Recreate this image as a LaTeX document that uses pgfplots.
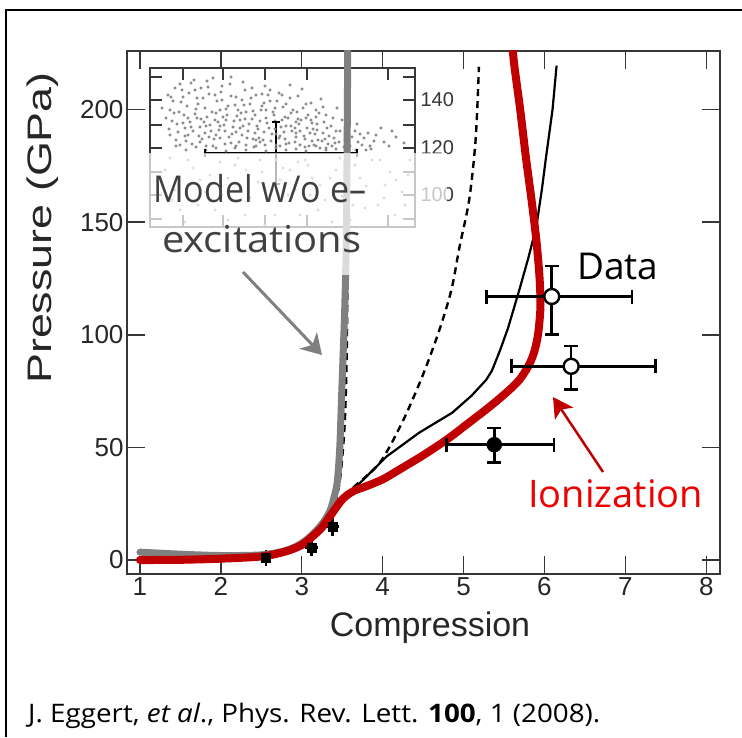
\documentclass[border=0pt]{standalone}
\usepackage{fontspec}
\setmainfont{Liberation Sans}
\newfontfamily\annot{Open Sans}
\usepackage{pgfplots}
\pgfplotsset{compat=1.18}
\usetikzlibrary{arrows.meta}

\definecolor{ionred}{RGB}{192,0,0}
\definecolor{labelred}{RGB}{236,0,0}
\definecolor{modelgray}{RGB}{128,128,128}
\definecolor{textgray}{RGB}{64,64,64}
\definecolor{framegray}{RGB}{55,55,55}
\definecolor{dotgray}{RGB}{135,135,135}

\pgfplotsset{
  ebar/.style={draw=black, line width=2.6pt, mark=none, forget plot},
  excap/.style={black, only marks, mark=|, mark size=7pt, mark options={line width=2.6pt}, forget plot},
  eycap/.style={black, only marks, mark=-, mark size=7pt, mark options={line width=2.6pt}, forget plot},
}

\begin{document}
\begin{tikzpicture}[x=1pt,y=1pt]
\path[use as bounding box] (0,0) rectangle (742,737);
% slide frame
\draw[line width=2.5pt] (6,0) -- (6,727) -- (742,727);

% inset: simulation snapshot with its own pressure scale
\begin{axis}[at={(150pt,510pt)}, anchor=south west, scale only axis,
  width=265pt, height=159pt,
  xmin=150, xmax=415, ymin=68, ymax=227, y dir=reverse,
  axis background/.style={fill=white},
  xtick={183,223,265,307,348,388}, xticklabels={},
  ytick={77,100,125,148,172,195,219}, yticklabels={,140,,120,,100,},
  xtick pos=both, ytick pos=both, yticklabel pos=right,
  tick align=inside, major tick length=12pt,
  axis line style={line width=1.6pt, framegray},
  tick style={line width=1.6pt, framegray},
  tick label style={font=\fontsize{20}{20}\selectfont, text=framegray},
  yticklabel style={xshift=2pt}]
\addplot[only marks, mark=*, mark size=1.35pt, color=dotgray] coordinates {
(162,108)(168,95)(172,121)(175,88)(178,132)(181,102)(184,115)(186,141)(189,93)(191,127)
(194,80)(196,109)(199,136)(201,119)(203,98)(206,146)(208,87)(210,125)(212,112)(214,139)
(217,101)(219,130)(221,92)(223,117)(225,144)(228,106)(230,84)(232,134)(234,121)(236,97)
(239,142)(241,113)(243,126)(245,90)(247,138)(250,104)(252,119)(254,147)(256,95)(258,129)
(261,110)(263,140)(265,86)(267,123)(270,101)(272,134)(274,115)(276,145)(279,93)(281,127)
(283,107)(285,139)(288,118)(290,98)(292,131)(295,142)(297,112)(299,124)(302,89)(304,136)
(306,104)(309,146)(311,120)(313,129)(316,110)(318,140)(321,99)(323,133)(326,115)(328,144)
(331,126)(334,138)(337,108)(340,131)(344,147)(352,137)(357,124)(362,145)(368,133)(374,141)
(381,128)(389,146)(396,137)(404,143)
(170,110)(177,124)(183,97)(188,118)(193,131)(198,104)(204,122)(209,137)(215,95)(220,126)
(226,109)(231,143)(237,116)(242,100)(248,131)(253,111)(259,138)(264,103)(269,128)(275,121)
(280,136)(286,126)(291,113)(296,133)(301,120)(307,128)(312,141)(317,124)(185,128)(195,90)
(205,133)(215,120)(225,131)(235,105)(245,119)(255,133)(265,145)(275,108)(285,117)(295,128)
(305,139)(315,134)(325,139)(335,143)(345,140)(360,134)(170,135)(180,145)(200,142)(220,110)
(240,128)(260,121)(280,146)(300,145)(320,148)(213,78)(243,82)(180,84)(270,90)(290,85)
(231,77)(333,118)(347,126)(371,149)(392,131)
(166,118)(169,129)(173,101)(176,140)(179,112)(182,90)(185,136)(187,106)(190,122)(192,144)
(195,114)(197,98)(200,127)(202,139)(205,108)(207,117)(209,94)(211,131)(213,146)(216,113)
(218,122)(220,138)(222,100)(224,125)(227,115)(229,137)(231,96)(233,127)(235,148)(238,110)
(240,120)(242,135)(244,105)(246,145)(249,124)(251,98)(253,139)(255,115)(257,126)(260,142)
(262,106)(264,132)(266,118)(268,95)(271,141)(273,112)(275,129)(277,101)(279,138)(282,120)
(284,132)(286,104)(289,143)(291,126)(293,110)(296,137)(298,119)(300,131)(303,108)(305,147)
(308,115)(310,133)(312,123)(314,145)(317,130)(319,113)(322,141)(324,122)(327,128)(329,136)
(332,146)(336,131)(339,142)(342,120)(346,134)(350,146)(355,131)(358,142)(364,138)(370,146)
(376,135)(384,142)(171,97)(174,113)(183,123)(188,135)(197,118)(206,126)(216,135)(226,120)
(236,132)(246,112)(256,140)(266,110)(276,134)(286,144)(296,122)(306,118)(316,117)(326,148)
(201,88)(222,86)(252,88)(262,94)(282,95)(298,96)(311,103)(323,107)(191,83)(207,81)
(186,150)(206,150)(226,151)(246,150)(266,151)(286,150)(306,151)(326,150)(346,151)(366,150)
(176,146)(196,147)(216,148)(236,146)(256,146)(276,148)(296,149)(316,146)(336,149)(356,150)
(165,170)(175,190)(188,160)(198,205)(210,175)(222,195)(235,165)(245,215)(258,182)(270,200)
(283,168)(295,190)(305,160)(318,210)(330,178)(342,196)(355,165)(366,186)(378,205)(390,172)
(402,192)(410,160)(380,160)(395,215)(350,220)(320,185)(300,215)(280,180)(260,160)(240,190)
(220,162)(200,180)(180,210)(170,158)(290,170)(310,195)(340,158)(365,208)(385,185)(405,205)
(160,180)(172,200)(185,222)(193,168)(205,192)(215,210)(228,178)(238,158)(250,198)(262,172)
(275,215)(288,195)(298,162)(312,178)(325,200)(336,170)(348,190)(360,178)(372,160)(384,198)
(396,180)(408,175)(353,205)(332,222)(265,225)(228,220)(190,185)(246,170)(308,165)(276,160)
};
% snapshot error cross
\addplot[ebar, line width=2.4pt] coordinates {(205,153)(357,153)};
\addplot[ebar, line width=2.4pt] coordinates {(276,122)(276,184)};
\addplot[excap, mark size=4pt] coordinates {(205,153)(357,153)};
\addplot[eycap, mark size=4pt] coordinates {(276,122)(276,184)};
\end{axis}

% main axes: pressure versus compression
\begin{axis}[at={(127pt,163pt)}, anchor=south west, scale only axis,
  width=593pt, height=523pt,
  xmin=0.84, xmax=8.17, ymin=-6.2, ymax=226,
  xtick={1,2,3,4,5,6,7,8}, ytick={0,50,100,150,200},
  xtick pos=both, ytick pos=both,
  tick align=inside, major tick length=18pt,
  axis line style={line width=1.5pt, framegray},
  tick style={line width=1.5pt, framegray},
  tick label style={font=\fontsize{26}{26}\selectfont, text=black!85},
  /pgf/number format/assume math mode=true]
% dashed model along the steep branch
\addplot[black, line width=2.4pt, dash pattern=on 7pt off 5pt, smooth] coordinates {
(3.38,20)(3.47,35)(3.53,60)(3.555,90)(3.565,120)(3.57,140)};
% dashed model
\addplot[black, line width=2.4pt, dash pattern=on 7pt off 5pt, smooth] coordinates {
(3.45,24)(3.6,31)(3.96,43)(4.24,61)(4.49,81.5)(4.7,102)(4.85,120)(4.95,139)(5.07,160)(5.15,187)(5.19,219)};
% solid model
\addplot[black, line width=2.2pt] coordinates {
(1,0.3)(2,0.8)(2.5,1.8)(3,6)(3.3,15)(3.45,24)(3.63,31)(4.05,46)(4.45,56.5)(4.86,65.4)(5.1,73)(5.28,80)
(5.35,84)(5.45,93)(5.55,103)(5.69,120)(5.8,134)(5.9,148)(5.97,165)(6.02,179)(6.1,200)(6.15,219.5)};
% low-pressure data
\addplot[ebar] coordinates {(2.48,1)(2.64,1)};
\addplot[ebar] coordinates {(2.56,-2.5)(2.56,4.5)};
\addplot[ebar] coordinates {(3.04,5.5)(3.2,5.5)};
\addplot[ebar] coordinates {(3.12,2)(3.12,9)};
\addplot[ebar] coordinates {(3.3,15)(3.46,15)};
\addplot[ebar] coordinates {(3.38,10.5)(3.38,19.5)};
\addplot[black, only marks, mark=square*, mark size=4.5pt] coordinates {(2.56,1)(3.12,5.5)(3.38,15)};
% model without electronic excitations
\addplot[modelgray, line width=7pt, smooth, line cap=round] coordinates {
(1,3.5)(1.5,2.6)(2,2.0)(2.5,2.3)(2.8,4.2)(3.0,7.5)(3.15,12)(3.27,17)(3.35,22)(3.4,28)(3.44,35)
(3.47,50)(3.49,70)(3.51,90)(3.53,110)(3.55,140)(3.56,180)(3.57,235)};
% model with ionization
\addplot[ionred, line width=8pt, smooth, line cap=round] coordinates {
(1,0)(1.5,0.1)(2,0.6)(2.5,1.6)(2.8,3.8)(3.0,6.7)(3.15,11)(3.25,14.5)(3.38,21)(3.48,26)(3.55,28.5)
(3.65,30.8)(3.8,32.8)(4.0,35.8)(4.2,40)(4.5,46.5)(4.79,53.4)(5.05,60.5)(5.32,68)(5.55,75)(5.69,80)
(5.8,86)(5.87,92)(5.92,100)(5.95,112)(5.94,125)(5.9,142)(5.84,160)(5.77,179)(5.7,200)(5.62,222)(5.58,240)};
% shock data: error bars
\addplot[ebar] coordinates {(4.79,51.2)(6.12,51.2)};
\addplot[ebar] coordinates {(5.38,43.2)(5.38,58.6)};
\addplot[excap] coordinates {(4.79,51.2)(6.12,51.2)};
\addplot[eycap] coordinates {(5.38,43.2)(5.38,58.6)};
\addplot[ebar] coordinates {(5.59,86)(7.37,86)};
\addplot[ebar] coordinates {(6.33,75.7)(6.33,95)};
\addplot[excap] coordinates {(5.59,86)(7.37,86)};
\addplot[eycap] coordinates {(6.33,75.7)(6.33,95)};
\addplot[ebar] coordinates {(5.28,117)(7.08,117)};
\addplot[ebar] coordinates {(6.09,100)(6.09,130.5)};
\addplot[excap] coordinates {(5.28,117)(7.08,117)};
\addplot[eycap] coordinates {(6.09,100)(6.09,130.5)};
% shock data: points
\addplot[black, only marks, mark=*, mark size=7.5pt] coordinates {(5.38,51.2)};
\addplot[black, only marks, mark=*, mark size=7.5pt, mark options={fill=white, line width=2.4pt}]
  coordinates {(6.33,86)(6.09,117)};
\end{axis}

% axis titles
\node[font=\fontsize{34}{34}\selectfont, text=black!85] at (430,109) {Compression};
\node[font=\fontsize{34}{34}\selectfont, text=black!85, rotate=90, xscale=1.32] at (43,509) {Pressure (GPa)};

% label panel over the inset
\fill[white, opacity=0.72] (148,584) rectangle (447,462);
\node[anchor=base west, inner sep=0pt, xscale=0.92, font=\annot\fontsize{37}{37}\selectfont, text=textgray] at (153,534) {Model w/o e–};
\node[anchor=base west, inner sep=0pt, xscale=1.08, font=\annot\fontsize{37}{37}\selectfont, text=textgray] at (162,484) {excitations};
\draw[modelgray, line width=3pt, -{Stealth[length=20pt, width=24pt, inset=6pt]}] (243,465) -- (322,382);

\node[anchor=base west, inner sep=0pt, font=\annot\fontsize{37}{37}\selectfont] at (577,457) {Data};
\node[anchor=base west, inner sep=0pt, font=\annot\fontsize{38}{38}\selectfont, text=labelred] at (528,229) {Ionization};
\draw[ionred, line width=2.5pt, -{Stealth[length=20pt, width=22pt, inset=5pt]}] (603,265) -- (553,340);

% reference
\node[anchor=base west, inner sep=0pt, xscale=1.09, font=\annot\fontsize{25.5}{25.5}\selectfont] at (28,15)
  {J. Eggert, \textit{et al}., Phys. Rev. Lett. \textbf{100}, 1 (2008).};
\end{tikzpicture}
\end{document}
